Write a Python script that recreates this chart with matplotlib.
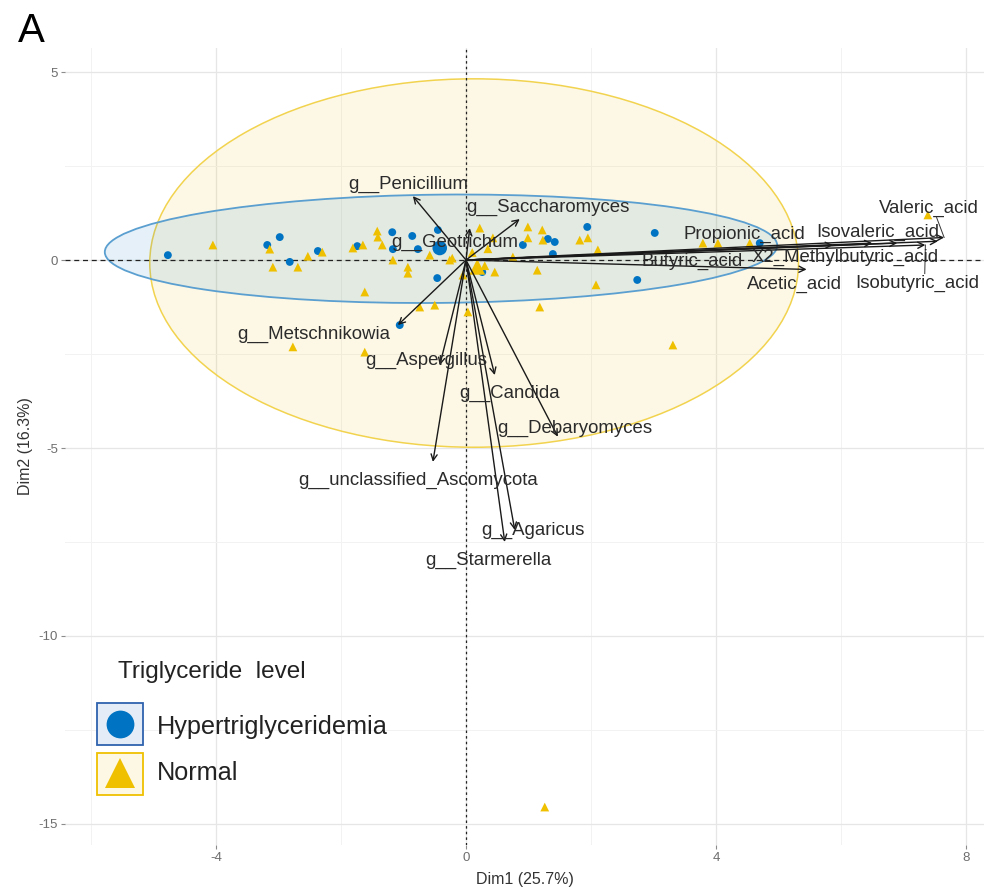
import matplotlib
matplotlib.use("Agg")
import matplotlib.pyplot as plt
from matplotlib.patches import Ellipse, Rectangle
from matplotlib.lines import Line2D
import numpy as np

plt.rcParams['font.family'] = ['Liberation Sans', 'DejaVu Sans']

# ---- individuals (PCA scores) ----
hyper_x = [-4.77, -2.98, -3.18, -2.82, -2.37, -1.74, -1.18, -0.86, -1.17, -0.77,
           -0.45, -0.46, -1.06, 0.91, 1.31, 1.42, 1.94, 1.39, 3.02, 2.74, 0.26, 4.70]
hyper_y = [0.13, 0.61, 0.40, -0.05, 0.24, 0.37, 0.74, 0.64, 0.29, 0.29,
           0.80, -0.48, -1.73, 0.40, 0.56, 0.48, 0.88, 0.16, 0.72, -0.53, -0.32, 0.45]

normal_x = [-4.05, -3.14, -3.09, -2.69, -2.53, -2.30, -1.81, -1.65, -1.62, -1.42,
            -1.41, -1.34, -1.17, -0.93, -0.93, -0.58, -0.26, -0.74, -0.50, -2.77,
            -1.62, 0.22, 0.43, 0.99, 1.22, 0.99, 1.23, 1.82, 1.95, 2.11,
            1.14, 0.46, 2.08, 1.18, 0.03, 3.31, -0.22, 0.75, 3.79, 4.03,
            4.54, 7.39, 1.26, 0.15, 0.30, 0.10, -0.05, 0.35]
normal_y = [0.40, 0.29, -0.19, -0.19, 0.10, 0.21, 0.32, 0.40, -0.85, 0.77,
            0.61, 0.40, 0.00, -0.19, -0.35, 0.13, 0.00, -1.25, -1.20, -2.31,
            -2.45, 0.85, 0.59, 0.88, 0.80, 0.59, 0.53, 0.53, 0.59, 0.27,
            -0.27, -0.32, -0.66, -1.25, -1.38, -2.26, 0.05, 0.08, 0.45, 0.45,
            0.45, 1.20, -14.55, -0.25, -0.15, 0.20, -0.40, 0.30]

# group mean points
hyper_mean = (-0.42, 0.32)
normal_mean = (0.18, -0.18)

# concentration ellipses: centre x, centre y, width, height, angle
hyper_ellipse = (-0.40, 0.30, 10.76, 2.88, 1.0)
normal_ellipse = (0.13, -0.08, 10.38, 9.80, 0.0)

# ---- variables (loadings, scaled) ----
var_names = ["g__Penicillium", "g__Saccharomyces", "g__Geotrichum", "g__Metschnikowia",
             "g__Aspergillus", "g__Candida", "g__Debaryomyces", "g__unclassified_Ascomycota",
             "g__Agaricus", "g__Starmerella",
             "Valeric_acid", "Isovaleric_acid", "Isobutyric_acid", "X2_Methylbutyric_acid",
             "Propionic_acid", "Butyric_acid", "Acetic_acid"]
var_x = [-0.85, 0.86, 0.06, -1.09, -0.42, 0.46, 1.47, -0.53, 0.78, 0.62,
         7.65, 7.55, 7.35, 6.90, 6.50, 5.87, 5.45]
var_y = [1.70, 1.09, 0.85, -1.73, -2.80, -3.06, -4.70, -5.37, -7.18, -7.50,
         0.60, 0.50, 0.40, 0.45, 0.45, 0.40, -0.25]

# label anchor positions (after repelling)
label_pos = {
    "g__Penicillium": (-0.93, 2.02),
    "g__Saccharomyces": (1.31, 1.41),
    "g__Geotrichum": (-0.18, 0.48),
    "g__Metschnikowia": (-2.43, -1.97),
    "g__Aspergillus": (-0.64, -2.66),
    "g__Candida": (0.70, -3.56),
    "g__Debaryomyces": (1.74, -4.47),
    "g__unclassified_Ascomycota": (-0.77, -5.85),
    "g__Agaricus": (1.07, -7.18),
    "g__Starmerella": (0.35, -7.98),
    "Valeric_acid": (7.41, 1.38),
    "Isovaleric_acid": (6.59, 0.74),
    "Isobutyric_acid": (7.22, -0.61),
    "X2_Methylbutyric_acid": (6.06, 0.08),
    "Propionic_acid": (4.46, 0.69),
    "Butyric_acid": (3.62, -0.03),
    "Acetic_acid": (5.25, -0.64),
}
leaders = ["Valeric_acid", "Isobutyric_acid"]

x_ticks = [-4, 0, 4, 8]
y_ticks = [-15, -10, -5, 0, 5]
x_minor = [-6, -2, 2, 6]
y_minor = [-12.5, -7.5, -2.5, 2.5]

BLUE = "#0073C2"
YELLOW = "#EFC000"

fig = plt.figure(figsize=(9.84, 8.89), dpi=100)
ax = fig.add_axes([65 / 984, 44 / 889, 919 / 984, 797 / 889])
ax.set_xlim(-6.416, 8.288)
ax.set_ylim(-15.56, 5.64)

# grid
for v in x_ticks:
    ax.axvline(v, color="#E6E6E6", lw=0.9, zorder=0)
for v in x_minor:
    ax.axvline(v, color="#F2F2F2", lw=0.7, zorder=0)
for v in y_ticks:
    ax.axhline(v, color="#E6E6E6", lw=0.9, zorder=0)
for v in y_minor:
    ax.axhline(v, color="#F2F2F2", lw=0.7, zorder=0)

for s in ax.spines.values():
    s.set_visible(False)
ax.set_xticks(x_ticks)
ax.set_yticks(y_ticks)
ax.set_xticklabels([str(t) for t in x_ticks])
ax.set_yticklabels([str(t) for t in y_ticks])
ax.tick_params(axis="both", length=3, width=0.8, color="#8C8C8C",
               labelcolor="#6E6E6E", labelsize=9.5, pad=2)

# ellipses
cx, cy, w, h, a = normal_ellipse
ax.add_patch(Ellipse((cx, cy), w, h, angle=a, facecolor=YELLOW, alpha=0.1,
                     edgecolor="none", zorder=1))
ax.add_patch(Ellipse((cx, cy), w, h, angle=a, facecolor="none",
                     edgecolor="#F2D34F", lw=1.1, zorder=1.1))
cx, cy, w, h, a = hyper_ellipse
ax.add_patch(Ellipse((cx, cy), w, h, angle=a, facecolor=BLUE, alpha=0.1,
                     edgecolor="none", zorder=1.2))
ax.add_patch(Ellipse((cx, cy), w, h, angle=a, facecolor="none",
                     edgecolor="#5A9FD0", lw=1.3, zorder=1.3))

# reference lines
ax.axhline(0, color="#222222", lw=0.9, ls=(0, (4, 3)), zorder=2)
ax.axvline(0, color="#222222", lw=0.9, ls=(0, (2, 2.5)), zorder=2)

# individuals
ax.scatter(hyper_x, hyper_y, s=32, marker="o", color=BLUE, edgecolors="none", zorder=3)
ax.scatter(normal_x, normal_y, s=40, marker="^", color=YELLOW, edgecolors="none", zorder=3)
ax.scatter([hyper_mean[0]], [hyper_mean[1]], s=110, marker="o", color=BLUE,
           edgecolors="none", zorder=3.5)
ax.scatter([normal_mean[0]], [normal_mean[1]], s=130, marker="^", color=YELLOW,
           edgecolors="none", zorder=3.5)

# variable arrows
for name, vx, vy in zip(var_names, var_x, var_y):
    ax.annotate("", xy=(vx, vy), xytext=(0, 0),
                arrowprops=dict(arrowstyle="->", color="#1A1A1A", lw=1.0,
                                shrinkA=0, shrinkB=0, mutation_scale=11),
                zorder=4)
for name, vx, vy in zip(var_names, var_x, var_y):
    lx, ly = label_pos[name]
    if name in leaders:
        ax.plot([lx + 0.12, vx], [ly - 0.25 if ly > vy else ly + 0.25, vy],
                color="#333333", lw=0.7, zorder=4)
    ax.text(lx, ly, name, fontsize=13.4, color="#2B2B2B", ha="center", va="center",
            zorder=5)

ax.set_xlabel("Dim1 (25.7%)", fontsize=11.5, color="#333333", labelpad=6)
ax.set_ylabel("Dim2 (16.3%)", fontsize=11.5, color="#333333", labelpad=4)

# panel tag
fig.text(18 / 984, 1 - 42 / 889, "A", fontsize=29, color="black", ha="left", va="baseline")

# legend (drawn in figure pixel coordinates)
def fx(px):
    return px / 984

def fy(py):
    return 1 - py / 889

fig.text(fx(118), fy(672), "Triglyceride  level", fontsize=17.5, color="#222222",
         ha="left", va="center")
fig.add_artist(Rectangle((fx(97), fy(745)), fx(46), 42 / 889, transform=fig.transFigure,
                         facecolor="#E3ECF7", edgecolor="#2F62AE", lw=1.3))
fig.add_artist(Rectangle((fx(97), fy(795)), fx(46), 42 / 889, transform=fig.transFigure,
                         facecolor="#FDF8E4", edgecolor=YELLOW, lw=1.3))
fig.add_artist(Line2D([fx(120)], [fy(724)], marker="o", markersize=20, color=BLUE,
                      markeredgewidth=0, transform=fig.transFigure))
fig.add_artist(Line2D([fx(120)], [fy(773)], marker="^", markersize=21, color=YELLOW,
                      markeredgewidth=0, transform=fig.transFigure))
fig.text(fx(157), fy(727), "Hypertriglyceridemia", fontsize=18.2, color="#222222",
         ha="left", va="center")
fig.text(fx(157), fy(773), "Normal", fontsize=18.2, color="#222222",
         ha="left", va="center")

fig.savefig("out.png", dpi=100)
